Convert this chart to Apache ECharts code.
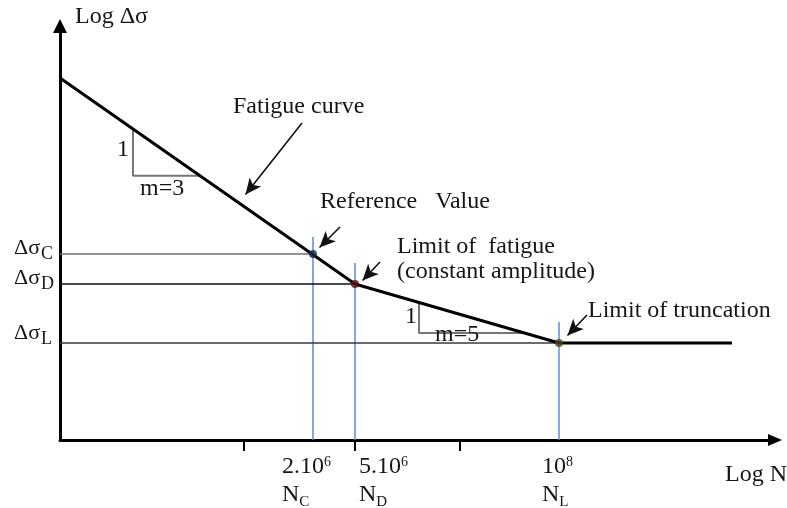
<!DOCTYPE html>
<html>
<head>
<meta charset="utf-8">
<title>S-N fatigue curve</title>
<script src="https://cdn.jsdelivr.net/npm/echarts@6/dist/echarts.min.js"></script>
<style>
  html, body { margin: 0; padding: 0; background: #ffffff; }
  #chart { width: 787px; height: 508px; }
</style>
</head>
<body>
<div id="chart"></div>
<script>
// Schematic S-N (Wöhler) curve in log N / log Δσ units.

// Characteristic points: C = reference value, D = constant-amplitude fatigue limit, L = truncation limit
const knotNames = ['C', 'D', 'L'];
const knotLogN = [2.53, 2.95, 4.99];
const knotLogS = [1.86, 1.56, 0.97];
const guideTop = [2.03, 1.77, 1.18];          // upper end of the vertical N guides

// Fatigue curve: start on the stress axis, knee at D, cut-off at L, flat tail
const curveStart = [0, 3.62];
const tailEnd = 6.72;

// Axis ticks and labels
const tickValues = [1.84, 2.95, 4.0];
const tickMantissa = ['2.10', '5.10', '10'];
const tickExponent = ['6', '6', '8'];

// Slope triangles (x extent along the curve) and their labels
const triangleSpans = [[0.73, 1.40], [3.59, 4.645]];
const slopeLabels = ['m=3', 'm=5'];

// Pointer arrows (from, to) in axis units
const arrowFrom = [[2.42, 3.17], [2.80, 2.13], [3.20, 1.78], [5.27, 1.25]];
const arrowTo = [[1.855, 2.455], [2.595, 1.925], [3.025, 1.595], [5.075, 1.045]];

// ---------- styling / layout ----------
const SERIF = '"Liberation Serif", "Times New Roman", serif';
const INK = '#161616';
const guideColors = ['#6e6e6e', '#111111', '#3a3a3a'];
const knotColors = ['#162840', '#5a0e0e', '#4f4412'];
const BLUE = '#5b8dd6';

const curve = [curveStart, [knotLogN[1], knotLogS[1]], [knotLogN[2], knotLogS[2]], [tailEnd, knotLogS[2]]];

function curveAt(x) {
  for (let i = 0; i < curve.length - 1; i++) {
    const a = curve[i], b = curve[i + 1];
    if (x >= a[0] && x <= b[0]) {
      return a[1] + (b[1] - a[1]) * (x - a[0]) / (b[0] - a[0]);
    }
  }
  return curve[curve.length - 1][1];
}

const chart = echarts.init(document.getElementById('chart'), null, { renderer: 'canvas' });

const series = [];
knotNames.forEach(function (n, i) {
  series.push({
    type: 'line', name: 'Δσ' + n, silent: true, symbol: 'none', z: 2,
    data: [[0, knotLogS[i]], [knotLogN[i], knotLogS[i]]],
    lineStyle: { color: guideColors[i], width: 1.5 }
  });
  series.push({
    type: 'line', name: 'N' + n, silent: true, symbol: 'none', z: 2,
    data: [[knotLogN[i], 0], [knotLogN[i], guideTop[i]]],
    lineStyle: { color: BLUE, width: 1.5 }
  });
});

triangleSpans.forEach(function (span, i) {
  const a = span[0], b = span[1];
  series.push({
    type: 'line', name: slopeLabels[i], silent: true, symbol: 'none', z: 3,
    data: [[a, curveAt(a)], [a, curveAt(b)], [b, curveAt(b)]],
    lineStyle: { color: '#767676', width: 2 }
  });
});

series.push({
  type: 'line', name: 'Fatigue curve', silent: true, symbol: 'none', z: 5,
  data: curve,
  lineStyle: { color: '#000000', width: 3 },
  markLine: {
    silent: true,
    symbol: ['none', 'arrow'],
    label: { show: false },
    lineStyle: { color: '#111111', width: 1.6, type: 'solid' },
    data: arrowFrom.map(function (f, i) {
      return [
        { coord: f, symbol: 'none' },
        { coord: arrowTo[i], symbol: 'arrow', symbolSize: [11, 16] }
      ];
    })
  }
});

series.push({
  type: 'scatter', name: 'points', silent: true, z: 6,
  symbolSize: 8,
  data: knotLogN.map(function (x, i) {
    return { value: [x, knotLogS[i]], itemStyle: { color: knotColors[i] } };
  })
});

chart.setOption({
  animation: false,
  backgroundColor: '#ffffff',
  grid: { left: 60, top: 26, width: 715, height: 414 },
  xAxis: {
    type: 'value', min: 0, max: 7.15,
    splitLine: { show: false },
    axisLabel: { show: false },
    axisLine: {
      onZero: false,
      symbol: ['none', 'triangle'], symbolSize: [12, 14],
      lineStyle: { color: '#000000', width: 3 }
    },
    axisTick: {
      show: true, inside: false, length: 11,
      customValues: tickValues,
      lineStyle: { color: '#000000', width: 2 }
    }
  },
  yAxis: {
    type: 'value', min: 0, max: 4.14,
    splitLine: { show: false },
    axisLabel: { show: false },
    axisTick: { show: false },
    axisLine: {
      onZero: false,
      symbol: ['none', 'triangle'], symbolSize: [14, 14],
      lineStyle: { color: '#000000', width: 3 }
    }
  },
  series: series
});

// ---------- text ----------
const measureCtx = document.createElement('canvas').getContext('2d');
function textWidth(s, size) {
  measureCtx.font = size + 'px ' + SERIF;
  return measureCtx.measureText(s).width;
}
function label(x, baseline, s, size) {
  return {
    type: 'text', x: x, y: baseline - size * 0.34, silent: true, z: 100,
    style: {
      text: s, font: size + 'px ' + SERIF, fill: INK,
      align: 'left', verticalAlign: 'middle', textAlign: 'left', textVerticalAlign: 'middle'
    }
  };
}
function toPx(pt) { return chart.convertToPixel({ gridIndex: 0 }, pt); }

const texts = [];

// axis titles
texts.push(label(75, 25, 'Log Δσ', 24));
texts.push(label(725, 483, 'Log N', 24));

// annotations
const notes = [
  ['Fatigue curve', 233, 115],
  ['Reference   Value', 320, 210],
  ['Limit of  fatigue', 397, 255],
  ['(constant amplitude)', 397, 280],
  ['Limit of truncation', 588, 319],
  ['1', 117, 158],
  [slopeLabels[0], 140, 197],
  ['1', 405, 325],
  [slopeLabels[1], 435, 343]
];
notes.forEach(function (n) { texts.push(label(n[1], n[2], n[0], 24)); });

// stress levels on the vertical axis
const yLabelShift = [2, 2, -2];
knotNames.forEach(function (n, i) {
  const p = toPx([0, knotLogS[i]]);
  const x = p[0] - 46, base = p[1] + yLabelShift[i];
  texts.push(label(x, base, 'Δσ', 22));
  texts.push(label(x + textWidth('Δσ', 22) + 1, base + 4, n, 18));
});

// cycle numbers under the horizontal axis
const xLabelShift = [-31, 4, -17];
knotNames.forEach(function (n, i) {
  const p = toPx([knotLogN[i], 0]);
  const x = p[0] + xLabelShift[i];
  const b1 = p[1] + 35, b2 = p[1] + 63;
  texts.push(label(x, b1, tickMantissa[i], 24));
  texts.push(label(x + textWidth(tickMantissa[i], 24), b1 - 8, tickExponent[i], 14));
  texts.push(label(x, b2, 'N', 24));
  texts.push(label(x + textWidth('N', 24), b2 + 4, n, 15));
});

chart.setOption({ graphic: { elements: texts } });
</script>
</body>
</html>
